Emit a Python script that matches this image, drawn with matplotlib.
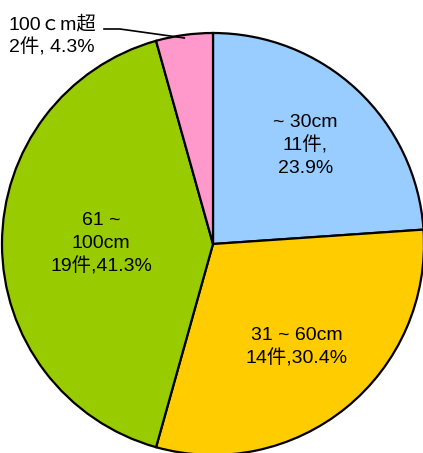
import matplotlib.pyplot as plt
import numpy as np

plt.rcParams['font.family'] = ['Liberation Sans', 'Noto Sans CJK JP', 'DejaVu Sans']

# data
labels = ['~ 30cm\n11件,\n23.9%', '31 ~ 60cm\n14件,30.4%', '61 ~\n100cm\n19件,41.3%', '100ｃm超\n2件, 4.3%']
counts = [11, 14, 19, 2]
colors = ['#99CCFF', '#FFCC00', '#99CC00', '#FF99CC']
label_dist = [0.64, 0.63, 0.53, None]

W, H = 423, 453
fig = plt.figure(figsize=(W / 100, H / 100), dpi=100)
ax = fig.add_axes([0, 0, 1, 1])

cx, cy, r = 213, H - 244, 211
wedges, _ = ax.pie(counts, colors=colors, startangle=90, counterclock=False,
                   center=(cx, cy), radius=r, frame=True,
                   wedgeprops=dict(edgecolor='black', linewidth=1.6))
ax.set_xlim(0, W)
ax.set_ylim(0, H)
ax.set_aspect('equal')
ax.axis('off')

for w, lab, d in zip(wedges, labels, label_dist):
    mid = np.deg2rad((w.theta1 + w.theta2) / 2)
    if d is not None:
        ax.text(cx + d * r * np.cos(mid), cy + d * r * np.sin(mid), lab,
                ha='center', va='center', fontsize=14, linespacing=1.4)
    else:
        # outside label with leader line
        px, py = cx + r * np.cos(mid), cy + r * np.sin(mid) - 3
        ax.plot([104, 120, px], [H - 29, H - 29, py], color='black', lw=1.2)
        ax.text(52, H - 36, lab, ha='center', va='center', fontsize=14, linespacing=1.35)

fig.savefig('out.png', dpi=100)
